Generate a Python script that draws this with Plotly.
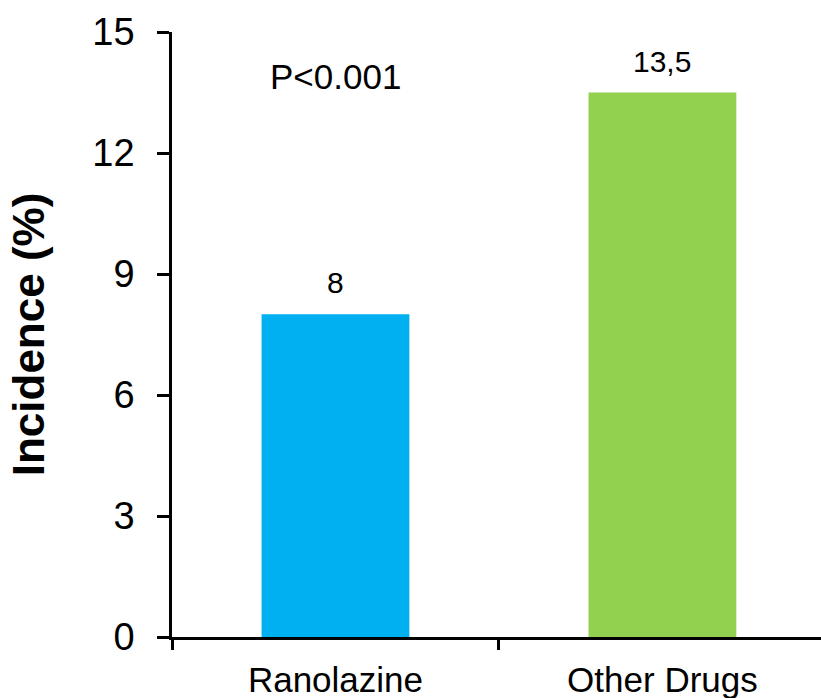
import plotly.graph_objects as go

# Incidence by treatment group
categories = ["Ranolazine", "Other Drugs"]
incidence = [8, 13.5]
bar_colors = ["#00B0F0", "#92D050"]
y_ticks = [0, 3, 6, 9, 12, 15]
p_value_text = "P<0.001"

FONT = "Liberation Sans, Arial, sans-serif"


def fmt(v):
    # decimal comma, no trailing ",0"
    s = f"{v:g}"
    return s.replace(".", ",")


fig = go.Figure()
fig.add_trace(go.Bar(
    x=categories,
    y=incidence,
    marker=dict(color=bar_colors, line=dict(width=0)),
    width=0.452,
    showlegend=False,
    hoverinfo="skip",
))

# value labels above bars
for c, v in zip(categories, incidence):
    fig.add_annotation(
        x=c, y=v, text=fmt(v), showarrow=False,
        yanchor="bottom", yshift=13,
        font=dict(family=FONT, size=30, color="#000000"),
    )

fig.add_annotation(
    x=categories[0], y=13.9, text=p_value_text, showarrow=False,
    yanchor="middle",
    font=dict(family=FONT, size=35, color="#000000"),
)

fig.update_layout(
    width=821, height=698,
    margin=dict(l=172, r=0, t=32, b=61),
    paper_bgcolor="white", plot_bgcolor="white",
    bargap=0.548,
    font=dict(family=FONT, color="#000000"),
)

fig.update_xaxes(
    type="category",
    range=[-0.5, 1.485],
    tickson="boundaries",
    ticks="outside", ticklen=10, tickwidth=2.5, tickcolor="#000000",
    ticklabelstandoff=10,
    showline=True, linecolor="#000000", linewidth=2.5,
    showgrid=False, zeroline=False,
    tickfont=dict(family=FONT, size=35, color="#000000"),
)

fig.update_yaxes(
    range=[0, 15],
    tickmode="array", tickvals=y_ticks, ticktext=[str(t) for t in y_ticks],
    ticks="outside", ticklen=12, tickwidth=2.5, tickcolor="#000000",
    ticklabelstandoff=15,
    showline=True, linecolor="#000000", linewidth=2.5,
    showgrid=False, zeroline=False,
    tickfont=dict(family=FONT, size=38, color="#000000"),
    title=dict(text="<b>Incidence (%)</b>", standoff=34,
               font=dict(family=FONT, size=44, color="#000000")),
)

fig.write_html("out.html")
